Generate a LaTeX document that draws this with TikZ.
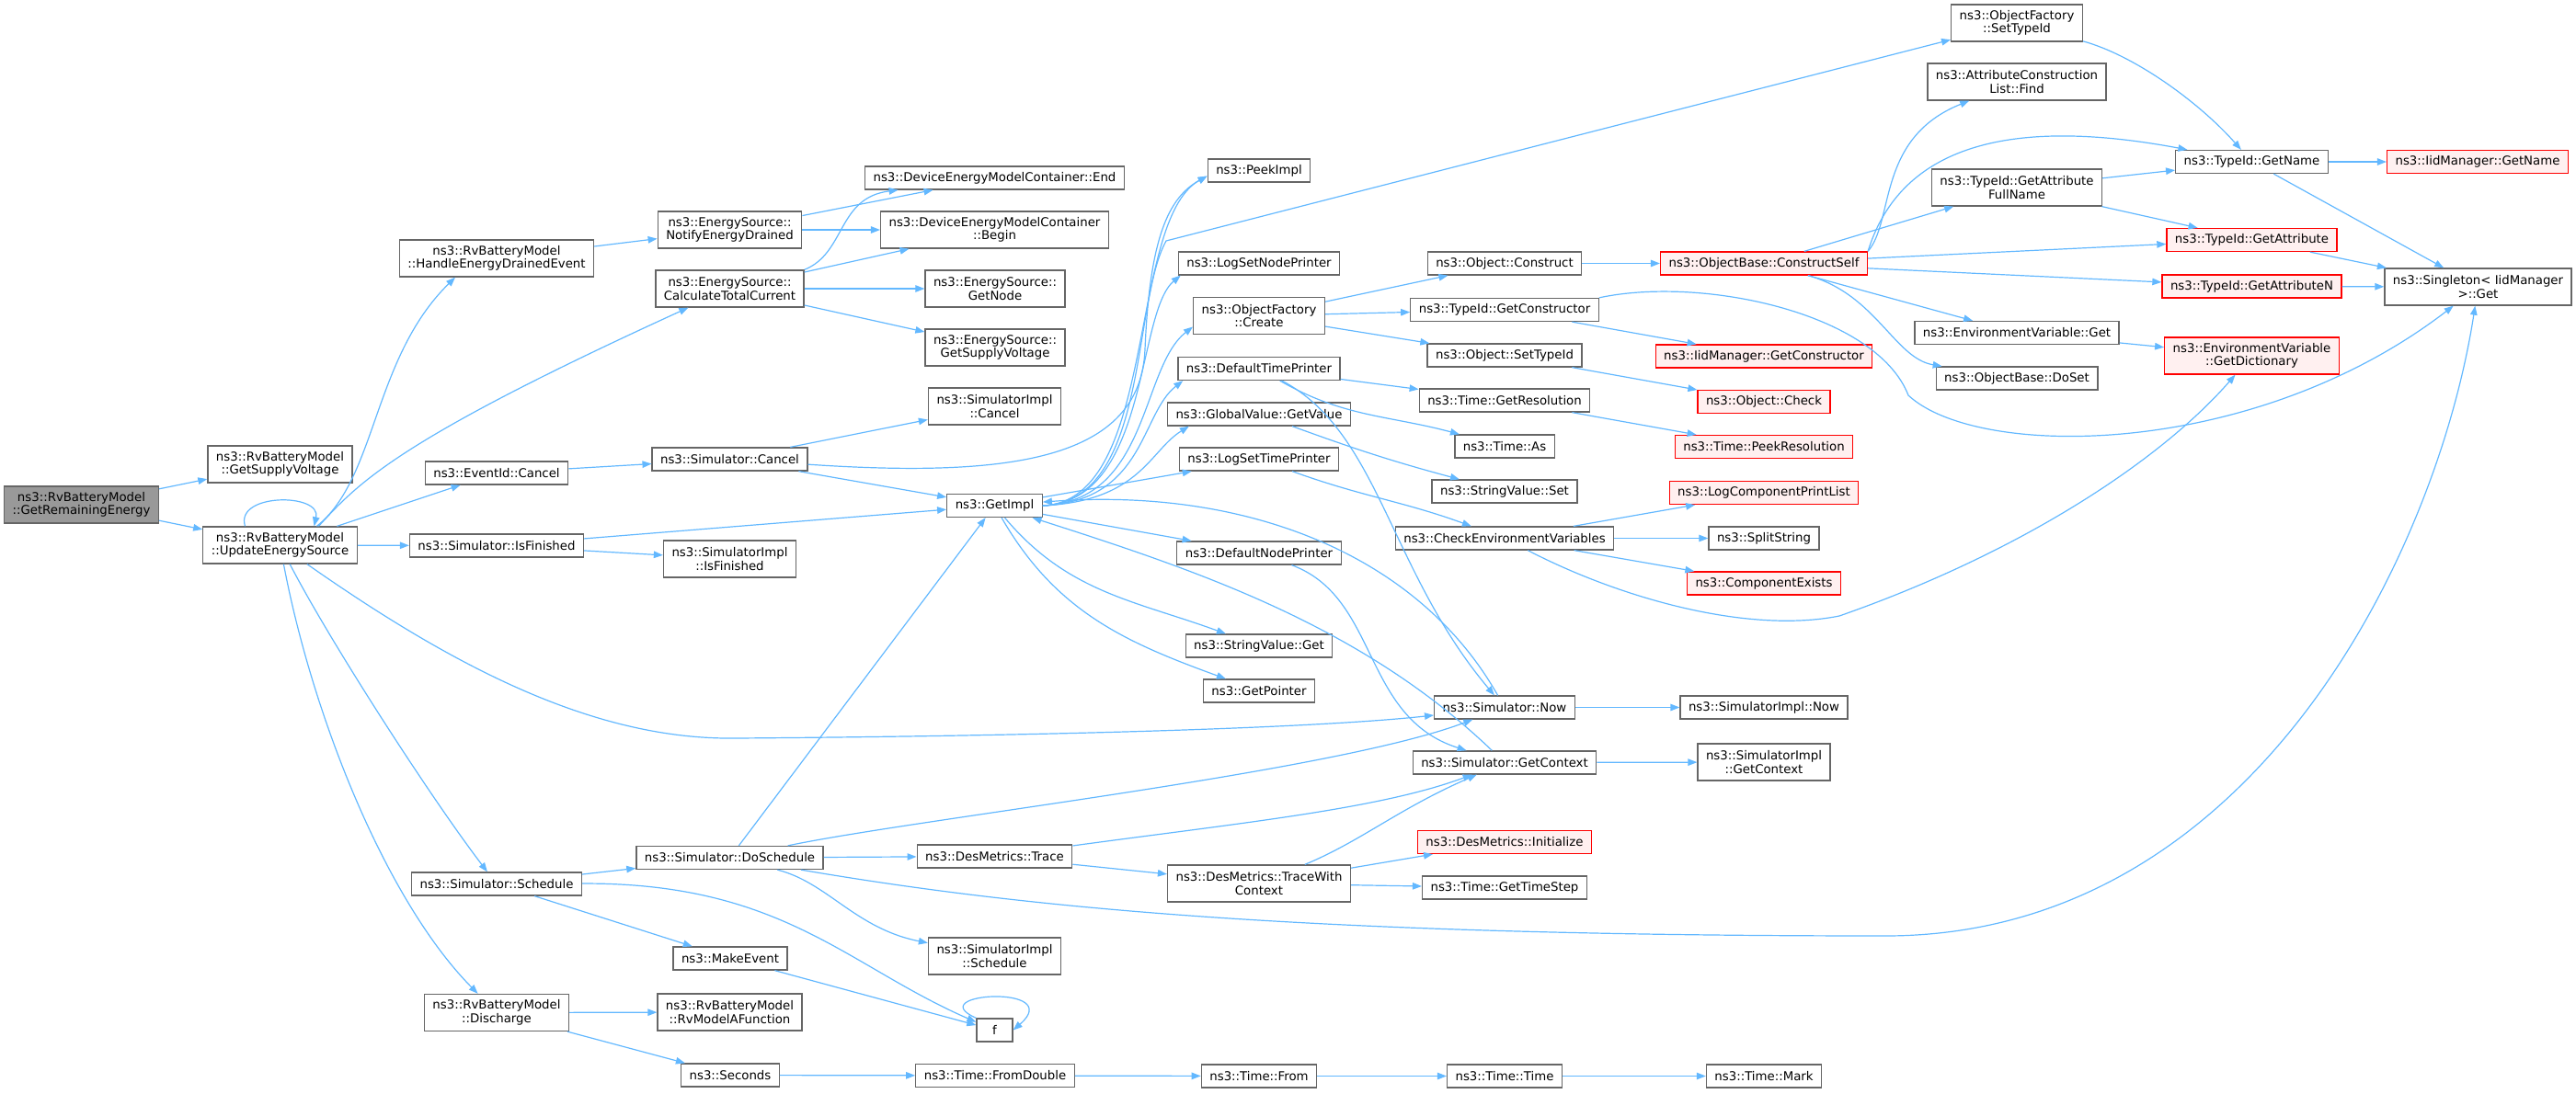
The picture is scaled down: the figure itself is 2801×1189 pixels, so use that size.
\documentclass[tikz,border=0pt]{standalone}
\usepackage{fontspec}
\setmainfont{DejaVu Sans}
\usetikzlibrary{arrows.meta}
\definecolor{edgeblue}{HTML}{63B8FF}
\definecolor{boxgray}{HTML}{666666}
\definecolor{focusgray}{HTML}{999999}
\definecolor{missfill}{HTML}{FFF0F0}
\begin{document}
\begin{tikzpicture}[x=1pt,y=-1pt,
	fn/.style={draw=boxgray,fill=white,line width=1.3pt,align=center,inner xsep=9pt,inner ysep=4pt,minimum height=25pt,font=\fontsize{13.3}{14.5}\selectfont},
	two/.style={minimum height=40pt},
	focus/.style={fill=focusgray},
	miss/.style={draw=red,fill=missfill},
	>={Triangle[length=10pt,width=7.5pt]},
	call/.style={->,draw=edgeblue,line width=1.2pt}]
	\useasboundingbox (0,0) rectangle (2801,1189);
	\node[fn,two,focus] (getRemaining) at (88.5,549) {ns3::RvBatteryModel\\::GetRemainingEnergy};
	\node[fn,two] (rvSupply) at (304.5,505) {ns3::RvBatteryModel\\::GetSupplyVoltage};
	\node[fn,two] (update) at (304.5,593) {ns3::RvBatteryModel\\::UpdateEnergySource};
	\node[fn,two] (handle) at (540,281) {ns3::RvBatteryModel\\::HandleEnergyDrainedEvent};
	\node[fn] (eventCancel) at (540,514.5) {ns3::EventId::Cancel};
	\node[fn] (isFinished) at (540,593.5) {ns3::Simulator::IsFinished};
	\node[fn] (schedule) at (540,961.5) {ns3::Simulator::Schedule};
	\node[fn,two] (discharge) at (540,1101.5) {ns3::RvBatteryModel\\::Discharge};
	\node[fn,two] (notify) at (793.5,250) {ns3::EnergySource::\\NotifyEnergyDrained};
	\node[fn,two] (calcCurrent) at (793.5,314) {ns3::EnergySource::\\CalculateTotalCurrent};
	\node[fn] (simCancel) at (793.5,499.5) {ns3::Simulator::Cancel};
	\node[fn,two] (implIsFinished) at (793.5,608) {ns3::SimulatorImpl\\::IsFinished};
	\node[fn] (doSchedule) at (793.5,933) {ns3::Simulator::DoSchedule};
	\node[fn] (makeEvent) at (794,1042.5) {ns3::MakeEvent};
	\node[fn,two] (rvModelA) at (793.5,1101) {ns3::RvBatteryModel\\::RvModelAFunction};
	\node[fn] (seconds) at (794,1169.5) {ns3::Seconds};
	\node[fn] (demcEnd) at (1081.5,193.5) {ns3::DeviceEnergyModelContainer::End};
	\node[fn,two] (demcBegin) at (1081.5,250) {ns3::DeviceEnergyModelContainer\\::Begin};
	\node[fn,two] (getNode) at (1082,314) {ns3::EnergySource::\\GetNode};
	\node[fn,two] (esSupply) at (1082,378) {ns3::EnergySource::\\GetSupplyVoltage};
	\node[fn,two] (implCancel) at (1081.5,442) {ns3::SimulatorImpl\\::Cancel};
	\node[fn] (getImpl) at (1081.5,550) {ns3::GetImpl};
	\node[fn] (trace) at (1081.5,931.5) {ns3::DesMetrics::Trace};
	\node[fn,two] (implSchedule) at (1081.5,1040) {ns3::SimulatorImpl\\::Schedule};
	\node[fn,minimum width=39pt] (f) at (1081.5,1120.5) {f};
	\node[fn] (fromDouble) at (1082,1170) {ns3::Time::FromDouble};
	\node[fn] (peekImpl) at (1369,185.5) {ns3::PeekImpl};
	\node[fn] (logSetNode) at (1369,286.5) {ns3::LogSetNodePrinter};
	\node[fn,two] (ofCreate) at (1369,343.5) {ns3::ObjectFactory\\::Create};
	\node[fn] (defTimePrinter) at (1369,401) {ns3::DefaultTimePrinter};
	\node[fn] (gvGetValue) at (1369,450.5) {ns3::GlobalValue::GetValue};
	\node[fn] (logSetTime) at (1369,499.5) {ns3::LogSetTimePrinter};
	\node[fn] (defNodePrinter) at (1369,601.5) {ns3::DefaultNodePrinter};
	\node[fn] (svGet) at (1369,702.5) {ns3::StringValue::Get};
	\node[fn] (getPointer) at (1369,751.5) {ns3::GetPointer};
	\node[fn,two] (traceCtx) at (1369,961) {ns3::DesMetrics::TraceWith\\Context};
	\node[fn] (timeFrom) at (1369,1170.5) {ns3::Time::From};
	\node[fn] (objConstruct) at (1636,286.5) {ns3::Object::Construct};
	\node[fn] (getCtor) at (1636,337) {ns3::TypeId::GetConstructor};
	\node[fn] (objSetTypeId) at (1636,386.5) {ns3::Object::SetTypeId};
	\node[fn] (getRes) at (1636,435.5) {ns3::Time::GetResolution};
	\node[fn] (timeAs) at (1636,485.5) {ns3::Time::As};
	\node[fn] (svSet) at (1636,534.5) {ns3::StringValue::Set};
	\node[fn] (checkEnv) at (1636,585.5) {ns3::CheckEnvironmentVariables};
	\node[fn] (simNow) at (1636,769.5) {ns3::Simulator::Now};
	\node[fn] (simGetCtx) at (1636,829.5) {ns3::Simulator::GetContext};
	\node[fn,miss] (dmInit) at (1636,916) {ns3::DesMetrics::Initialize};
	\node[fn] (getTimeStep) at (1636,965.5) {ns3::Time::GetTimeStep};
	\node[fn] (timeTime) at (1636,1170.5) {ns3::Time::Time};
	\node[fn,miss] (constructSelf) at (1918,286.5) {ns3::ObjectBase::ConstructSelf};
	\node[fn,miss] (iidGetCtor) at (1918,387.5) {ns3::IidManager::GetConstructor};
	\node[fn,miss] (objCheck) at (1918,437) {ns3::Object::Check};
	\node[fn,miss] (peekRes) at (1918,486) {ns3::Time::PeekResolution};
	\node[fn,miss] (logCompPrint) at (1918,536) {ns3::LogComponentPrintList};
	\node[fn] (splitString) at (1918,585.5) {ns3::SplitString};
	\node[fn,miss] (compExists) at (1918,634.5) {ns3::ComponentExists};
	\node[fn] (implNow) at (1918,769.5) {ns3::SimulatorImpl::Now};
	\node[fn,two] (implGetCtx) at (1918,829) {ns3::SimulatorImpl\\::GetContext};
	\node[fn] (timeMark) at (1918,1170.5) {ns3::Time::Mark};
	\node[fn,two] (ofSetTypeId) at (2193,25) {ns3::ObjectFactory\\::SetTypeId};
	\node[fn,two] (acFind) at (2193,89) {ns3::AttributeConstruction\\List::Find};
	\node[fn,two] (getAttrFull) at (2193,204) {ns3::TypeId::GetAttribute\\FullName};
	\node[fn] (envGet) at (2193,362) {ns3::EnvironmentVariable::Get};
	\node[fn] (doSet) at (2193,411.5) {ns3::ObjectBase::DoSet};
	\node[fn] (getName) at (2448.5,176) {ns3::TypeId::GetName};
	\node[fn,miss] (getAttr) at (2448.5,261) {ns3::TypeId::GetAttribute};
	\node[fn,miss] (getAttrN) at (2448.5,311.5) {ns3::TypeId::GetAttributeN};
	\node[fn,two,miss] (getDict) at (2448.5,387) {ns3::EnvironmentVariable\\::GetDictionary};
	\node[fn,miss] (iidGetName) at (2694,176) {ns3::IidManager::GetName};
	\node[fn,two] (singleton) at (2694.5,312) {ns3::Singleton< IidManager\\>::Get};
	\draw[call] (getRemaining) -- (rvSupply);
	\draw[call] (getRemaining) -- (update);
	\draw[call] ([xshift=-38pt]update.north) .. controls (255,536) and (350,536) .. ([xshift=37pt]update.north);
	\draw[call] ([xshift=40pt]update.north) .. controls (410,520) and (405,390) .. ([xshift=-45pt]handle.south);
	\draw[call] ([xshift=42pt]update.north) .. controls (390,525) and (430,480) .. (calcCurrent);
	\draw[call] (update) -- (eventCancel);
	\draw[call] (update) -- (isFinished);
	\draw[call] (update) .. controls (500,730) and (650,805) .. (800,803) .. controls (1200,800) and (1450,790) .. (simNow);
	\draw[call] (update) .. controls (360,700) and (470,870) .. (schedule);
	\draw[call] (update) .. controls (340,780) and (420,980) .. (discharge);
	\draw[call] (handle) -- (notify);
	\draw[call] (notify) -- (demcEnd);
	\draw[call] (notify) -- (demcBegin);
	\draw[call] (calcCurrent.north east) .. controls (920,275) and (910,215) .. (demcEnd);
	\draw[call] (calcCurrent) -- (demcBegin);
	\draw[call] (calcCurrent) -- (getNode);
	\draw[call] (calcCurrent) -- (esSupply);
	\draw[call] (eventCancel) -- (simCancel);
	\draw[call] (simCancel) -- (implCancel);
	\draw[call] (simCancel) -- (getImpl);
	\draw[call] (simCancel) .. controls (1100,520) and (1240,500) .. (1245,380) .. controls (1250,260) and (1270,215) .. ([yshift=-6pt]peekImpl.west);
	\draw[call] (isFinished) -- (getImpl);
	\draw[call] (isFinished) -- (implIsFinished);
	\draw[call] (schedule) -- (doSchedule);
	\draw[call] (schedule) -- (makeEvent);
	\draw[call] (schedule) .. controls (850,960) and (920,1050) .. (f);
	\draw[call] (discharge) -- (rvModelA);
	\draw[call] (discharge) -- (seconds);
	\draw[call] (makeEvent) -- (f);
	\draw[call] (seconds) -- (fromDouble);
	\draw[call] (doSchedule) -- (getImpl);
	\draw[call] (doSchedule) .. controls (1000,890) and (1450,840) .. (simNow);
	\draw[call] (doSchedule) -- (trace);
	\draw[call] (doSchedule) .. controls (900,960) and (930,1010) .. (implSchedule);
	\draw[call] (doSchedule) .. controls (1100,985) and (1400,1018) .. (2050,1018) .. controls (2450,1018) and (2650,600) .. (singleton);
	\draw[call] (f.north west) .. controls (1000,1080) and (1160,1070) .. (f.east);
	\draw[call] (getImpl.east) .. controls (1260,545) and (1225,240) .. ([yshift=-6pt]peekImpl.west);
	\draw[call] (getImpl.east) .. controls (1250,545) and (1235,340) .. ([xshift=3pt]logSetNode.south west);
	\draw[call] (getImpl.east) .. controls (1250,545) and (1240,400) .. ([yshift=-12pt]ofCreate.west);
	\draw[call] (getImpl.east) .. controls (1245,545) and (1240,450) .. ([xshift=6pt]defTimePrinter.south west);
	\draw[call] (getImpl.east) .. controls (1240,545) and (1250,490) .. ([xshift=24pt]gvGetValue.south west);
	\draw[call] (getImpl) -- ([xshift=14pt]logSetTime.south west);
	\draw[call] (getImpl) -- (defNodePrinter);
	\draw[call] (getImpl) to[out=-50,in=160] (svGet);
	\draw[call] (getImpl) to[out=-60,in=160] (getPointer);
	\draw[call] (getImpl.east) .. controls (1250,545) and (1230,330) .. (1268,262) -- (ofSetTypeId);
	\draw[call] (trace) -- (traceCtx);
	\draw[call] (trace) .. controls (1350,895) and (1500,880) .. (simGetCtx);
	\draw[call] (fromDouble) -- (timeFrom);
	\draw[call] (ofCreate) -- (objConstruct);
	\draw[call] (ofCreate) -- (getCtor);
	\draw[call] (ofCreate) -- (objSetTypeId);
	\draw[call] (defTimePrinter) -- (getRes);
	\draw[call] (defTimePrinter) to[out=-30,in=165] (timeAs);
	\draw[call] (defTimePrinter) .. controls (1500,470) and (1510,620) .. (simNow);
	\draw[call] (gvGetValue) to[out=-20,in=165] (svSet);
	\draw[call] (logSetTime) to[out=-20,in=160] (checkEnv);
	\draw[call] (defNodePrinter) .. controls (1500,650) and (1480,780) .. (simGetCtx);
	\draw[call] (traceCtx) -- (dmInit);
	\draw[call] (traceCtx) -- (getTimeStep);
	\draw[call] (traceCtx) .. controls (1480,915) and (1520,880) .. (simGetCtx);
	\draw[call] (timeFrom) -- (timeTime);
	\draw[call] (objConstruct) -- (constructSelf);
	\draw[call] (getCtor) -- (iidGetCtor);
	\draw[call] (getCtor.north east) .. controls (1850,300) and (2040,340) .. (2075,430) .. controls (2150,500) and (2450,500) .. (singleton);
	\draw[call] (objSetTypeId) -- (objCheck);
	\draw[call] (getRes) -- (peekRes);
	\draw[call] (checkEnv) -- (logCompPrint);
	\draw[call] (checkEnv) -- (splitString);
	\draw[call] (checkEnv) -- (compExists);
	\draw[call] (checkEnv) .. controls (1760,650) and (1900,690) .. (2000,670) .. controls (2200,600) and (2350,500) .. (getDict);
	\draw[call] (simNow) -- (implNow);
	\draw[call] (simNow) .. controls (1540,600) and (1350,530) .. (getImpl);
	\draw[call] (simGetCtx) -- (implGetCtx);
	\draw[call] (simGetCtx) .. controls (1480,680) and (1300,620) .. (getImpl);
	\draw[call] (timeTime) -- (timeMark);
	\draw[call] (constructSelf.north east) .. controls (2060,240) and (2040,150) .. (acFind);
	\draw[call] (constructSelf.north east) .. controls (2060,180) and (2150,120) .. (getName);
	\draw[call] (constructSelf) -- (getAttrFull);
	\draw[call] (constructSelf) -- (getAttr);
	\draw[call] (constructSelf) -- (getAttrN);
	\draw[call] (constructSelf) -- (envGet);
	\draw[call] (constructSelf) .. controls (2040,320) and (2060,390) .. (doSet);
	\draw[call] (ofSetTypeId) .. controls (2320,60) and (2390,110) .. (getName);
	\draw[call] (getAttrFull) -- (getName);
	\draw[call] (getAttrFull) -- (getAttr);
	\draw[call] (envGet) -- (getDict);
	\draw[call] (getName) -- (iidGetName);
	\draw[call] (getName) -- (singleton);
	\draw[call] (getAttr) -- (singleton);
	\draw[call] (getAttrN) -- (singleton);
\end{tikzpicture}
\end{document}
